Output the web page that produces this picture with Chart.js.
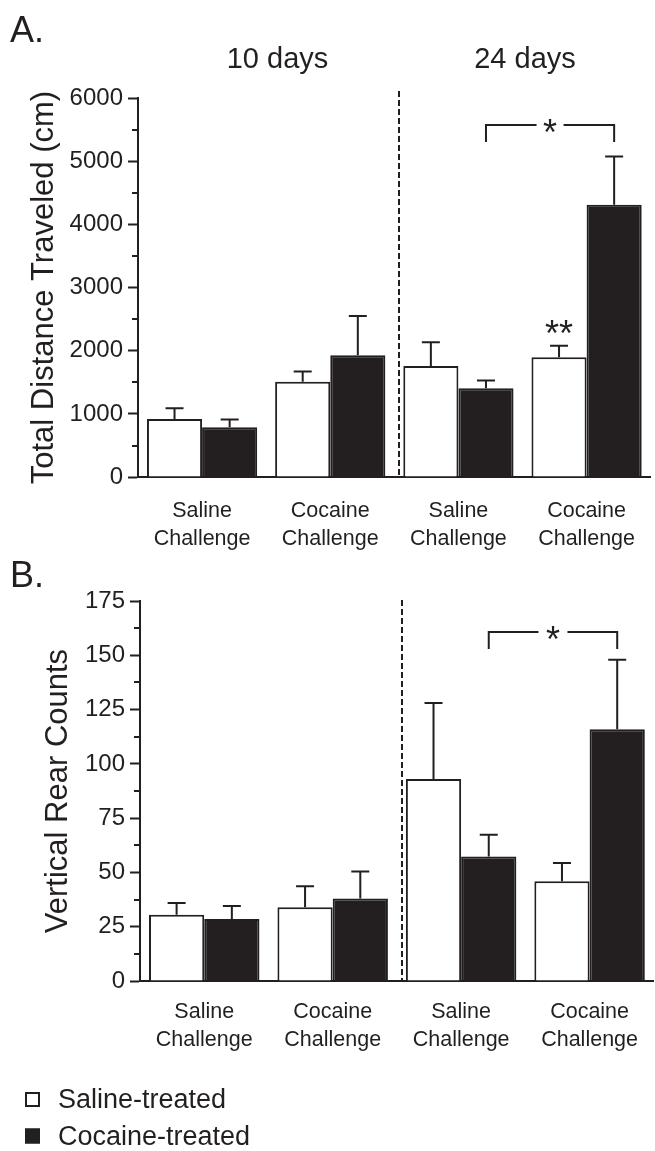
<!DOCTYPE html>
<html>
<head>
<meta charset="utf-8">
<script src="https://cdn.jsdelivr.net/npm/chart.js"></script>
<style>
  html, body { margin: 0; padding: 0; background: #fff; }
  #wrap { position: relative; width: 655px; height: 1151px; overflow: hidden; }
  canvas { position: absolute; left: 0; }
</style>
</head>
<body>
<div id="wrap">
  <canvas id="chartA" width="655" height="580" style="top:0"></canvas>
  <canvas id="chartB" width="655" height="601" style="top:550px"></canvas>
</div>
<script>
const challenges = [['Saline', 'Challenge'], ['Cocaine', 'Challenge'], ['Saline', 'Challenge'], ['Cocaine', 'Challenge']];
const groups = ['Saline-treated', 'Cocaine-treated'];
const dayLabels = ['10 days', '24 days'];

// A. total distance traveled (cm): mean and SEM
const distSaline = [920, 1510, 1760, 1895];
const distSalineSem = [170, 160, 375, 185];
const distCocaine = [790, 1930, 1405, 4310];
const distCocaineSem = [120, 620, 125, 765];

// B. vertical rear counts: mean and SEM
const rearSaline = [30.5, 34, 93, 46];
const rearSalineSem = [5.5, 9.7, 35, 8.4];
const rearCocaine = [28.6, 38, 57.4, 116];
const rearCocaineSem = [6, 12.5, 10, 32];

const ink = '#231f20';
const font = "'Liberation Sans', Arial, Helvetica, sans-serif";

function starText(ctx, txt, x, cy, size) {
  ctx.font = size + 'px ' + font;
  ctx.textAlign = 'center';
  ctx.textBaseline = 'alphabetic';
  const m = ctx.measureText(txt);
  ctx.fillText(txt, x, cy + (m.actualBoundingBoxAscent - m.actualBoundingBoxDescent) / 2);
}

const extras = {
  id: 'extras',
  afterDatasetsDraw(chart, args, o) {
    const ctx = chart.ctx, area = chart.chartArea;
    const xs = chart.scales.x, ys = chart.scales.y;
    ctx.save();
    ctx.strokeStyle = ink;
    ctx.fillStyle = ink;
    ctx.lineWidth = 2;
    ctx.lineCap = 'butt';
    ctx.lineJoin = 'miter';

    // upper error bars
    chart.data.datasets.forEach((ds, di) => {
      chart.getDatasetMeta(di).data.forEach((bar, i) => {
        const top = ys.getPixelForValue(ds.data[i] + ds.sem[i]);
        ctx.beginPath();
        ctx.moveTo(bar.x, bar.y);
        ctx.lineTo(bar.x, top);
        ctx.moveTo(bar.x - 9, top);
        ctx.lineTo(bar.x + 9, top);
        ctx.stroke();
      });
    });

    // dashed divider between the two time points
    const dx = Math.round((xs.getPixelForValue(1) + xs.getPixelForValue(2)) / 2) + o.dashShift;
    ctx.setLineDash([6, 3]);
    ctx.beginPath();
    ctx.moveTo(dx, area.top - o.dashAbove);
    ctx.lineTo(dx, area.bottom);
    ctx.stroke();
    ctx.setLineDash([]);

    // significance bracket
    const b = o.bracket;
    const p0 = chart.getDatasetMeta(b.from[0]).data[b.from[1]];
    const p1 = chart.getDatasetMeta(b.to[0]).data[b.to[1]];
    const by = Math.round(ys.getPixelForValue(b.value));
    const cx = (p0.x + p1.x) / 2;
    ctx.beginPath();
    ctx.moveTo(p0.x, by + b.drop);
    ctx.lineTo(p0.x, by);
    ctx.lineTo(cx - b.gap / 2, by);
    ctx.moveTo(cx + b.gap / 2, by);
    ctx.lineTo(p1.x, by);
    ctx.lineTo(p1.x, by + b.drop);
    ctx.stroke();
    starText(ctx, '*', cx, by + 1, o.starSize);

    // stars above single bars
    (o.marks || []).forEach(mk => {
      const ds = chart.data.datasets[mk.ds];
      const bar = chart.getDatasetMeta(mk.ds).data[mk.i];
      const top = ys.getPixelForValue(ds.data[mk.i] + ds.sem[mk.i]);
      starText(ctx, mk.text, bar.x, top - mk.above, o.starSize);
    });
    ctx.restore();
  },
  afterDraw(chart, args, o) {
    const ctx = chart.ctx, area = chart.chartArea, ys = chart.scales.y;
    ctx.save();
    ctx.strokeStyle = ink;
    ctx.fillStyle = ink;
    ctx.lineWidth = 2;

    // short minor ticks
    ys.ticks.forEach(t => {
      if (t.value % o.major !== 0) {
        const py = Math.round(ys.getPixelForValue(t.value));
        ctx.beginPath();
        ctx.moveTo(area.left - 6, py);
        ctx.lineTo(area.left, py);
        ctx.stroke();
      }
    });

    // panel letter and headers
    o.texts.forEach(t => {
      ctx.font = t.size + 'px ' + font;
      ctx.textAlign = t.align;
      ctx.textBaseline = 'alphabetic';
      ctx.fillText(t.text, t.x, t.y);
    });

    // legend
    if (o.legend) {
      const L = o.legend;
      chart.data.datasets.forEach((ds, i) => {
        const top = L.top + i * L.step;
        ctx.fillStyle = ds.backgroundColor;
        ctx.fillRect(L.x, top, L.box, L.box);
        ctx.lineWidth = 2;
        ctx.strokeStyle = ink;
        ctx.strokeRect(L.x + 1, top + 1, L.box - 2, L.box - 2);
        ctx.fillStyle = ink;
        ctx.font = L.size + 'px ' + font;
        ctx.textAlign = 'left';
        ctx.textBaseline = 'alphabetic';
        ctx.fillText(ds.label, L.textX, top + L.box + 1);
      });
    }
    ctx.restore();
  }
};

function makeChart(id, cfg) {
  return new Chart(document.getElementById(id), {
    type: 'bar',
    data: {
      labels: challenges,
      datasets: [
        { label: groups[0], data: cfg.saline, sem: cfg.salineSem, backgroundColor: '#ffffff',
          borderColor: ink, borderWidth: 2, barPercentage: 1, categoryPercentage: 0.86 },
        { label: groups[1], data: cfg.cocaine, sem: cfg.cocaineSem, backgroundColor: ink,
          borderColor: ink, borderWidth: 2, barPercentage: 1, categoryPercentage: 0.86 }
      ]
    },
    options: {
      responsive: false,
      animation: false,
      layout: { padding: cfg.padding },
      plugins: {
        legend: { display: false },
        tooltip: { enabled: false },
        extras: cfg.extras
      },
      scales: {
        x: {
          grid: { display: false, drawTicks: false },
          border: { display: true, color: ink, width: 2 },
          ticks: { color: ink, padding: cfg.xPad, maxRotation: 0, autoSkip: false,
                   font: { family: font, size: 21.5, lineHeight: 1.3 } }
        },
        y: {
          min: 0,
          max: cfg.max,
          afterFit: s => { s.width = cfg.yWidth; },
          ticks: {
            stepSize: cfg.minor, autoSkip: false, padding: 5, color: ink,
            font: { family: font, size: 24 },
            callback: v => (v % cfg.major === 0 ? String(v) : '')
          },
          grid: {
            drawOnChartArea: false, drawTicks: true, tickLength: 10, tickWidth: 2,
            tickColor: c => (c.tick && c.tick.value % cfg.major !== 0 ? 'rgba(0,0,0,0)' : ink)
          },
          border: { display: true, color: ink, width: 2 },
          title: { display: true, text: cfg.title, color: ink, padding: { top: 4, bottom: 4 },
                   font: { family: font, size: 31 } }
        }
      }
    },
    plugins: [extras]
  });
}

makeChart('chartA', {
  saline: distSaline, salineSem: distSalineSem,
  cocaine: distCocaine, cocaineSem: distCocaineSem,
  max: 6000, minor: 500, major: 1000,
  title: 'Total Distance Traveled (cm)',
  padding: { left: 22, top: 98, right: 0, bottom: 7 },
  yWidth: 116, xPad: 20,
  extras: {
    major: 1000, dashAbove: 7, dashShift: 5, starSize: 36,
    bracket: { from: [1, 2], to: [1, 3], value: 5580, drop: 17, gap: 27 },
    marks: [{ ds: 0, i: 3, text: '**', above: 19 }],
    texts: [
      { text: 'A.', x: 10, y: 42, size: 36, align: 'left' },
      { text: dayLabels[0], x: 277.5, y: 68, size: 29, align: 'center' },
      { text: dayLabels[1], x: 525, y: 68, size: 29, align: 'center' }
    ]
  }
});

makeChart('chartB', {
  saline: rearSaline, salineSem: rearSalineSem,
  cocaine: rearCocaine, cocaineSem: rearCocaineSem,
  max: 175, minor: 12.5, major: 25,
  title: 'Vertical Rear Counts',
  padding: { left: 36, top: 51, right: 0, bottom: 80 },
  yWidth: 104, xPad: 17,
  extras: {
    major: 25, dashAbove: 1, dashShift: 5, starSize: 36,
    bracket: { from: [1, 2], to: [1, 3], value: 160.8, drop: 17, gap: 29 },
    marks: [],
    texts: [
      { text: 'B.', x: 10, y: 37, size: 36, align: 'left' }
    ],
    legend: { x: 25, top: 542, step: 36.5, box: 15, textX: 58, size: 27 }
  }
});
</script>
</body>
</html>
